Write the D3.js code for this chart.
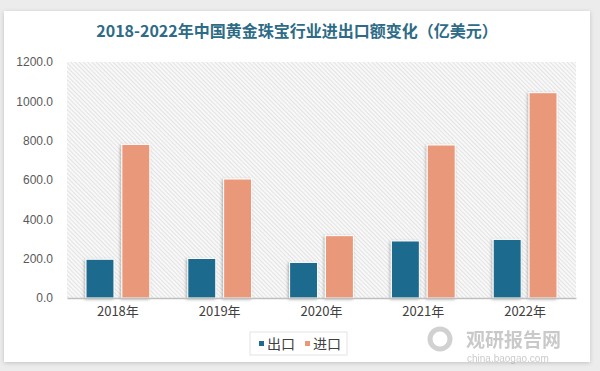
<!DOCTYPE html>
<html>
<head>
<meta charset="utf-8">
<script src="https://cdn.jsdelivr.net/npm/d3@7"></script>
<style>
  body { margin: 0; background: #ececec; }
  svg { display: block; }
</style>
</head>
<body>
<div id="chart"></div>
<script>
// data (亿美元)
var years = ["2018年", "2019年", "2020年", "2021年", "2022年"];
var series = ["出口", "进口"];
var exportVals = [197, 201, 181, 290, 298];
var importVals = [781, 605, 317, 778, 1044];
var yTicks = [0, 200, 400, 600, 800, 1000, 1200];
var colors = ["#1f6a8e", "#e9987a"];

var W = 600, H = 371;
var margin = {top: 62, right: 24, bottom: 73, left: 67},
    width = W - margin.left - margin.right,
    height = H - margin.top - margin.bottom;

var svg = d3.select("#chart")
  .append("svg")
    .attr("width", W)
    .attr("height", H);

var defs = svg.append("defs");

// card shadow
var f = defs.append("filter").attr("id", "cardShadow")
    .attr("x", "-5%").attr("y", "-5%").attr("width", "110%").attr("height", "110%");
f.append("feDropShadow").attr("dx", 0).attr("dy", 1).attr("stdDeviation", 2)
    .attr("flood-color", "#000").attr("flood-opacity", 0.18);

// bar shadow
var fb = defs.append("filter").attr("id", "barShadow")
    .attr("x", "-30%").attr("y", "-10%").attr("width", "160%").attr("height", "120%");
fb.append("feDropShadow").attr("dx", -1).attr("dy", 1).attr("stdDeviation", 1.5)
    .attr("flood-color", "#000").attr("flood-opacity", 0.3);

// diagonal hatch for plot background (lines run top-left -> bottom-right)
var pat = defs.append("pattern").attr("id", "hatch")
    .attr("patternUnits", "userSpaceOnUse")
    .attr("width", 3).attr("height", 3)
    .attr("patternTransform", "rotate(45)");
pat.append("rect").attr("width", 3).attr("height", 3).attr("fill", "#f8f8f8");
pat.append("line").attr("x1", 0).attr("y1", 0).attr("x2", 3).attr("y2", 0)
    .attr("stroke", "#d6d6d6").attr("stroke-width", 1.2);

// white card
svg.append("rect")
    .attr("x", 4).attr("y", 11)
    .attr("width", 586).attr("height", 351)
    .attr("fill", "#fff")
    .attr("filter", "url(#cardShadow)");

// title
svg.append("text")
    .attr("x", 297).attr("y", 37)
    .attr("text-anchor", "middle")
    .attr("font-family", "'Noto Sans CJK SC', sans-serif")
    .attr("font-weight", "bold")
    .attr("font-size", "16px")
    .attr("fill", "#2d6b86")
    .text("2018-2022年中国黄金珠宝行业进出口额变化（亿美元）");

var g = svg.append("g")
    .attr("transform", "translate(" + margin.left + "," + margin.top + ")");

g.append("rect")
    .attr("width", width).attr("height", height)
    .attr("fill", "url(#hatch)");

var x = d3.scaleBand()
    .domain(years)
    .range([0, width])
    .padding(0);

var xSub = d3.scaleBand()
    .domain(series)
    .range([0, x.bandwidth()])
    .paddingInner(0.22)
    .paddingOuter(0.53);

var y = d3.scaleLinear()
    .domain([0, 1200])
    .range([height, 0]);

// y axis: labels only
var yAxis = g.append("g")
    .call(d3.axisLeft(y).tickValues(yTicks).tickSize(0).tickPadding(14)
      .tickFormat(d3.format(".1f")));
yAxis.select(".domain").remove();
yAxis.selectAll("text")
    .attr("font-family", "'Liberation Sans', Arial, sans-serif")
    .attr("font-size", "12px")
    .attr("fill", "#595959");

var rows = years.map(function(yr, i) {
  return {year: yr, values: [
    {key: series[0], value: exportVals[i]},
    {key: series[1], value: importVals[i]}
  ]};
});

var groups = g.selectAll(".grp")
  .data(rows)
  .enter().append("g")
    .attr("class", "grp")
    .attr("transform", function(d) { return "translate(" + x(d.year) + ",0)"; });

groups.selectAll("rect")
  .data(function(d) { return d.values; })
  .enter().append("rect")
    .attr("x", function(d) { return xSub(d.key); })
    .attr("y", function(d) { return y(d.value); })
    .attr("width", xSub.bandwidth())
    .attr("height", function(d) { return height - y(d.value); })
    .attr("fill", function(d, i) { return colors[i]; })
    .attr("stroke", "#fff")
    .attr("stroke-width", 1)
    .attr("filter", "url(#barShadow)");

// x axis
var xAxis = g.append("g")
    .attr("transform", "translate(0," + height + ")")
    .call(d3.axisBottom(x).tickSize(0).tickPadding(9));
xAxis.select(".domain").attr("stroke", "#bfbfbf").attr("stroke-width", 1.5);
xAxis.selectAll("text")
    .attr("font-family", "'Noto Sans CJK SC', sans-serif")
    .attr("font-size", "13px")
    .attr("fill", "#404040");

// legend
var lg = svg.append("g").attr("transform", "translate(250,332)");
lg.append("rect")
    .attr("width", 97).attr("height", 23)
    .attr("fill", "#fff")
    .attr("stroke", "#e3e3e3");
var items = lg.selectAll(".item")
  .data(series)
  .enter().append("g")
    .attr("class", "item")
    .attr("transform", function(d, i) { return "translate(" + (9 + i * 46) + ",0)"; });
items.append("rect")
    .attr("y", 9).attr("width", 5).attr("height", 5)
    .attr("fill", function(d, i) { return colors[i]; });
items.append("text")
    .attr("x", 8).attr("y", 17)
    .attr("font-family", "'Noto Sans CJK SC', sans-serif")
    .attr("font-size", "14px")
    .attr("fill", "#404040")
    .text(function(d) { return d; });

// watermark
var wm = svg.append("g").attr("opacity", 0.45);
wm.append("circle").attr("cx", 440).attr("cy", 339).attr("r", 10)
    .attr("fill", "none").attr("stroke", "#9a9a9a").attr("stroke-width", 5);
wm.append("text")
    .attr("x", 466).attr("y", 347)
    .attr("font-family", "'Noto Sans CJK SC', sans-serif")
    .attr("font-weight", "bold")
    .attr("font-size", "19px")
    .attr("fill", "#8a8a8a")
    .text("观研报告网");
wm.append("text")
    .attr("x", 467).attr("y", 362)
    .attr("font-family", "'Liberation Sans', Arial, sans-serif")
    .attr("font-size", "10px")
    .attr("fill", "#8a8a8a")
    .text("china.baogao.com");
</script>
</body>
</html>
